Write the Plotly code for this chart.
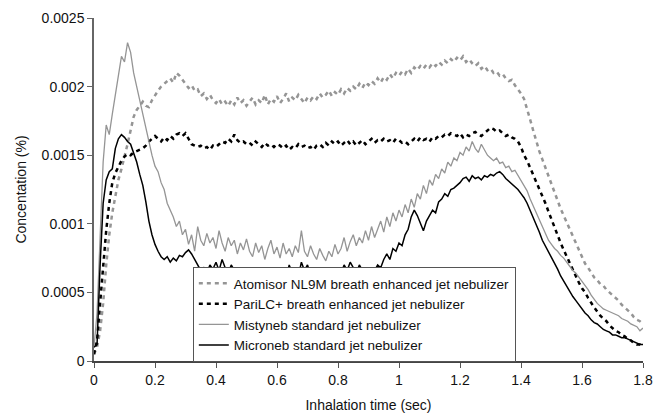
import plotly.graph_objects as go

time_s = [
    0.00, 0.01, 0.02, 0.03, 0.04, 0.05, 0.06, 0.07, 0.08, 0.09,
    0.10, 0.11, 0.12, 0.13, 0.14, 0.15, 0.16, 0.17, 0.18, 0.19,
    0.20, 0.21, 0.22, 0.23, 0.24, 0.25, 0.26, 0.27, 0.28, 0.29,
    0.30, 0.31, 0.32, 0.33, 0.34, 0.35, 0.36, 0.37, 0.38, 0.39,
    0.40, 0.41, 0.42, 0.43, 0.44, 0.45, 0.46, 0.47, 0.48, 0.49,
    0.50, 0.51, 0.52, 0.53, 0.54, 0.55, 0.56, 0.57, 0.58, 0.59,
    0.60, 0.61, 0.62, 0.63, 0.64, 0.65, 0.66, 0.67, 0.68, 0.69,
    0.70, 0.71, 0.72, 0.73, 0.74, 0.75, 0.76, 0.77, 0.78, 0.79,
    0.80, 0.81, 0.82, 0.83, 0.84, 0.85, 0.86, 0.87, 0.88, 0.89,
    0.90, 0.91, 0.92, 0.93, 0.94, 0.95, 0.96, 0.97, 0.98, 0.99,
    1.00, 1.01, 1.02, 1.03, 1.04, 1.05, 1.06, 1.07, 1.08, 1.09,
    1.10, 1.11, 1.12, 1.13, 1.14, 1.15, 1.16, 1.17, 1.18, 1.19,
    1.20, 1.21, 1.22, 1.23, 1.24, 1.25, 1.26, 1.27, 1.28, 1.29,
    1.30, 1.31, 1.32, 1.33, 1.34, 1.35, 1.36, 1.37, 1.38, 1.39,
    1.40, 1.41, 1.42, 1.43, 1.44, 1.45, 1.46, 1.47, 1.48, 1.49,
    1.50, 1.51, 1.52, 1.53, 1.54, 1.55, 1.56, 1.57, 1.58, 1.59,
    1.60, 1.61, 1.62, 1.63, 1.64, 1.65, 1.66, 1.67, 1.68, 1.69,
    1.70, 1.71, 1.72, 1.73, 1.74, 1.75, 1.76, 1.77, 1.78, 1.79,
    1.80,
]

atomisor = [
    0.00005, 0.00010, 0.00022, 0.00042, 0.00070, 0.00092, 0.00108, 0.00120, 0.00132, 0.00140,
    0.00148, 0.00158, 0.00168, 0.00178, 0.00183, 0.00186, 0.00189, 0.00186, 0.00185, 0.00190,
    0.00194, 0.00197, 0.00200, 0.00202, 0.00204, 0.00206, 0.00203, 0.00210, 0.00208, 0.00205,
    0.00202, 0.00199, 0.00201, 0.00197, 0.00198, 0.00193, 0.00195, 0.00191, 0.00194, 0.00190,
    0.00188, 0.00191, 0.00187, 0.00189, 0.00186, 0.00190, 0.00187, 0.00192, 0.00188, 0.00190,
    0.00186, 0.00189, 0.00192, 0.00187, 0.00190, 0.00188, 0.00194, 0.00187, 0.00191, 0.00189,
    0.00193, 0.00188, 0.00191, 0.00195, 0.00189, 0.00192, 0.00190, 0.00194, 0.00191, 0.00188,
    0.00192, 0.00190, 0.00193, 0.00191, 0.00195, 0.00192, 0.00194, 0.00197, 0.00193, 0.00196,
    0.00194, 0.00198, 0.00195, 0.00199, 0.00197, 0.00200, 0.00198, 0.00202, 0.00199, 0.00203,
    0.00201, 0.00204, 0.00202, 0.00206, 0.00203, 0.00207, 0.00205, 0.00209, 0.00206, 0.00210,
    0.00208, 0.00211, 0.00209, 0.00213, 0.00210, 0.00214, 0.00212, 0.00215, 0.00213, 0.00216,
    0.00214, 0.00217, 0.00215, 0.00218, 0.00216, 0.00219, 0.00217, 0.00220, 0.00218, 0.00221,
    0.00219, 0.00222, 0.00218, 0.00220, 0.00217, 0.00215, 0.00217, 0.00213, 0.00215, 0.00212,
    0.00213, 0.00210, 0.00211, 0.00208, 0.00209, 0.00206, 0.00204, 0.00205, 0.00201, 0.00198,
    0.00195, 0.00191, 0.00184, 0.00176, 0.00168, 0.00160, 0.00153, 0.00147, 0.00141, 0.00134,
    0.00128, 0.00122, 0.00117, 0.00111, 0.00106, 0.00101, 0.00096, 0.00091, 0.00086, 0.00081,
    0.00076, 0.00071, 0.00068, 0.00064, 0.00061, 0.00059, 0.00056, 0.00055, 0.00052, 0.00050,
    0.00048, 0.00046, 0.00044, 0.00041, 0.00039, 0.00037, 0.00035, 0.00032, 0.00030, 0.00029,
    0.00027,
]

parilc = [
    0.00005, 0.00015, 0.00042, 0.00070, 0.00095, 0.00115, 0.00130, 0.00137, 0.00142, 0.00146,
    0.00149, 0.00151, 0.00150, 0.00152, 0.00153, 0.00154, 0.00155, 0.00157, 0.00160, 0.00162,
    0.00164, 0.00162, 0.00160, 0.00163, 0.00161, 0.00164, 0.00162, 0.00165, 0.00166, 0.00164,
    0.00166, 0.00162, 0.00158, 0.00157, 0.00156, 0.00157, 0.00155, 0.00156, 0.00154, 0.00157,
    0.00156, 0.00158, 0.00160, 0.00159, 0.00162, 0.00160, 0.00165, 0.00161, 0.00159, 0.00160,
    0.00158, 0.00159, 0.00157, 0.00160, 0.00158, 0.00156, 0.00159, 0.00157, 0.00158, 0.00156,
    0.00158, 0.00157, 0.00155, 0.00157, 0.00154, 0.00156, 0.00155, 0.00158, 0.00156, 0.00157,
    0.00155, 0.00156, 0.00154, 0.00157, 0.00158, 0.00156, 0.00159, 0.00157, 0.00160, 0.00158,
    0.00160, 0.00157, 0.00159, 0.00161, 0.00158, 0.00160, 0.00157, 0.00159, 0.00161, 0.00158,
    0.00160, 0.00162, 0.00159, 0.00161, 0.00160, 0.00162, 0.00160, 0.00161, 0.00159, 0.00162,
    0.00161, 0.00159, 0.00160, 0.00158, 0.00160, 0.00162, 0.00160, 0.00163, 0.00161, 0.00162,
    0.00160, 0.00163, 0.00162, 0.00164, 0.00163, 0.00165, 0.00164, 0.00166, 0.00165, 0.00164,
    0.00166, 0.00163, 0.00165, 0.00164, 0.00166, 0.00167, 0.00165, 0.00164, 0.00166, 0.00168,
    0.00170, 0.00169, 0.00167, 0.00168, 0.00166, 0.00164, 0.00165, 0.00163, 0.00162, 0.00160,
    0.00156, 0.00150, 0.00146, 0.00141, 0.00135, 0.00130, 0.00125, 0.00120, 0.00115, 0.00109,
    0.00103, 0.00098, 0.00092, 0.00086, 0.00081, 0.00076, 0.00071, 0.00066, 0.00062, 0.00057,
    0.00053, 0.00050, 0.00046, 0.00042, 0.00039, 0.00036, 0.00033, 0.00031, 0.00029, 0.00026,
    0.00024, 0.00022, 0.00021, 0.00019, 0.00018, 0.00016, 0.00015, 0.00013, 0.00012, 0.00012,
    0.00011,
]

mistyneb = [
    0.00010, 0.00035, 0.00090, 0.00145, 0.00172, 0.00165, 0.00180, 0.00195, 0.00210, 0.00222,
    0.00218, 0.00232, 0.00225, 0.00210, 0.00200, 0.00190, 0.00178, 0.00168, 0.00158, 0.00150,
    0.00142, 0.00138, 0.00130, 0.00125, 0.00115, 0.00110, 0.00105, 0.00098, 0.00102, 0.00092,
    0.00096, 0.00085, 0.00092, 0.00080, 0.00098, 0.00088, 0.00084, 0.00093, 0.00086, 0.00090,
    0.00082, 0.00095, 0.00086, 0.00080, 0.00090, 0.00084, 0.00088, 0.00078, 0.00086, 0.00081,
    0.00089, 0.00080, 0.00076, 0.00086, 0.00079, 0.00084, 0.00074, 0.00082, 0.00088, 0.00078,
    0.00083, 0.00075, 0.00086, 0.00078, 0.00082, 0.00076, 0.00084, 0.00079, 0.00095, 0.00080,
    0.00076, 0.00084, 0.00078, 0.00074, 0.00082, 0.00077, 0.00073, 0.00080, 0.00076, 0.00085,
    0.00078, 0.00082, 0.00090, 0.00080, 0.00087, 0.00092, 0.00084, 0.00090, 0.00086, 0.00095,
    0.00088, 0.00098, 0.00090, 0.00096, 0.00102, 0.00094, 0.00105, 0.00098, 0.00108, 0.00102,
    0.00110, 0.00105, 0.00114, 0.00108, 0.00118, 0.00112, 0.00122, 0.00118, 0.00128, 0.00122,
    0.00132, 0.00128, 0.00136, 0.00133, 0.00140, 0.00137, 0.00145, 0.00142, 0.00148, 0.00146,
    0.00152, 0.00150, 0.00156, 0.00153, 0.00160, 0.00155, 0.00152, 0.00158, 0.00154, 0.00150,
    0.00148, 0.00146, 0.00148, 0.00144, 0.00145, 0.00141, 0.00142, 0.00138, 0.00139, 0.00135,
    0.00132, 0.00128, 0.00124, 0.00118, 0.00113, 0.00108, 0.00102, 0.00097, 0.00092, 0.00088,
    0.00085, 0.00082, 0.00080, 0.00077, 0.00075, 0.00072, 0.00069, 0.00066, 0.00064, 0.00061,
    0.00058, 0.00055, 0.00052, 0.00048, 0.00045, 0.00042, 0.00040, 0.00038, 0.00037, 0.00036,
    0.00035, 0.00034, 0.00033, 0.00031, 0.00030, 0.00029, 0.00027, 0.00026, 0.00025, 0.00022,
    0.00024,
]

microneb = [
    0.00010, 0.00012, 0.00070, 0.00115, 0.00132, 0.00138, 0.00140, 0.00155, 0.00162, 0.00165,
    0.00163, 0.00160, 0.00158, 0.00152, 0.00145, 0.00136, 0.00128, 0.00116, 0.00102, 0.00092,
    0.00085, 0.00080, 0.00076, 0.00074, 0.00076, 0.00072, 0.00075, 0.00073, 0.00077, 0.00076,
    0.00079, 0.00081, 0.00078, 0.00074, 0.00070, 0.00066, 0.00068, 0.00064, 0.00070, 0.00067,
    0.00072, 0.00066, 0.00074, 0.00068, 0.00064, 0.00070, 0.00066, 0.00062, 0.00067, 0.00064,
    0.00068, 0.00062, 0.00066, 0.00060, 0.00065, 0.00058, 0.00064, 0.00055, 0.00068, 0.00060,
    0.00063, 0.00057, 0.00066, 0.00060, 0.00070, 0.00064, 0.00068, 0.00062, 0.00072, 0.00066,
    0.00070, 0.00063, 0.00068, 0.00062, 0.00066, 0.00060, 0.00064, 0.00062, 0.00067, 0.00063,
    0.00068, 0.00064, 0.00070, 0.00066, 0.00072, 0.00068, 0.00064, 0.00070, 0.00066, 0.00062,
    0.00064, 0.00060, 0.00066, 0.00070, 0.00068, 0.00074, 0.00078, 0.00074, 0.00082, 0.00080,
    0.00086, 0.00084, 0.00092, 0.00096, 0.00105, 0.00110, 0.00106, 0.00100, 0.00095, 0.00102,
    0.00106, 0.00110, 0.00108, 0.00116, 0.00118, 0.00122, 0.00120, 0.00125, 0.00126, 0.00128,
    0.00130, 0.00133, 0.00134, 0.00131, 0.00135, 0.00133, 0.00134, 0.00132, 0.00135, 0.00134,
    0.00136, 0.00135, 0.00137, 0.00138, 0.00136, 0.00133, 0.00131, 0.00129, 0.00127, 0.00125,
    0.00122, 0.00119, 0.00115, 0.00110, 0.00105, 0.00100, 0.00094, 0.00088, 0.00084, 0.00079,
    0.00075, 0.00071, 0.00067, 0.00062, 0.00058, 0.00055, 0.00051, 0.00047, 0.00044, 0.00041,
    0.00038, 0.00035, 0.00033, 0.00030, 0.00028, 0.00027, 0.00025, 0.00023, 0.00022, 0.00021,
    0.00019, 0.00019, 0.00018, 0.00017, 0.00017, 0.00016, 0.00015, 0.00014, 0.00013, 0.00012,
    0.00012,
]

series_names = [
    "Atomisor NL9M breath enhanced jet nebulizer",
    "PariLC+ breath enhanced jet nebulizer",
    "Mistyneb standard jet nebulizer",
    "Microneb standard jet nebulizer",
]

y_tick_vals = [0, 0.0005, 0.001, 0.0015, 0.002, 0.0025]
y_tick_text = ["0", "0.0005", "0.001", "0.0015", "0.002", "0.0025"]
x_tick_vals = [0, 0.2, 0.4, 0.6, 0.8, 1.0, 1.2, 1.4, 1.6, 1.8]
x_tick_text = ["0", "0.2", "0.4", "0.6", "0.8", "1", "1.2", "1.4", "1.6", "1.8"]

FONT = "Liberation Sans, Arial, sans-serif"
GRAY = "#959595"

fig = go.Figure()
fig.add_trace(go.Scatter(x=time_s, y=atomisor, mode="lines", name=series_names[0],
                         line=dict(color=GRAY, width=2.5, dash="4px,4px")))
fig.add_trace(go.Scatter(x=time_s, y=parilc, mode="lines", name=series_names[1],
                         line=dict(color="#000000", width=2.5, dash="4px,4px")))
fig.add_trace(go.Scatter(x=time_s, y=mistyneb, mode="lines", name=series_names[2],
                         line=dict(color=GRAY, width=1.3)))
fig.add_trace(go.Scatter(x=time_s, y=microneb, mode="lines", name=series_names[3],
                         line=dict(color="#000000", width=1.5)))

fig.update_layout(
    width=654, height=414,
    margin=dict(l=94, r=11, t=18, b=53),
    paper_bgcolor="white", plot_bgcolor="white",
    font=dict(family=FONT, size=14, color="#111111"),
    showlegend=True,
    legend=dict(
        x=0.18, y=-0.003, xanchor="left", yanchor="bottom",
        bgcolor="white", bordercolor="#555555", borderwidth=1,
        font=dict(family=FONT, size=13.5, color="#111111"),
        tracegroupgap=0, itemwidth=30,
        entrywidth=314, entrywidthmode="pixels",
    ),
)
fig.update_xaxes(
    range=[0, 1.8], tickvals=x_tick_vals, ticktext=x_tick_text, automargin=False,
    showgrid=False, zeroline=False, showline=True, linecolor="#444444", linewidth=1.5,
    ticks="outside", ticklen=5, tickcolor="#555555",
    title=dict(text="Inhalation time (sec)", font=dict(size=14), standoff=14),
)
fig.update_yaxes(
    range=[0, 0.0025], tickvals=y_tick_vals, ticktext=y_tick_text, automargin=False,
    showgrid=False, zeroline=False, showline=True, linecolor="#666666", linewidth=1.5,
    ticks="outside", ticklen=5, tickcolor="#666666",
    title=dict(text="Concentation (%)", font=dict(size=14), standoff=12),
)

fig.write_html("out.html")
